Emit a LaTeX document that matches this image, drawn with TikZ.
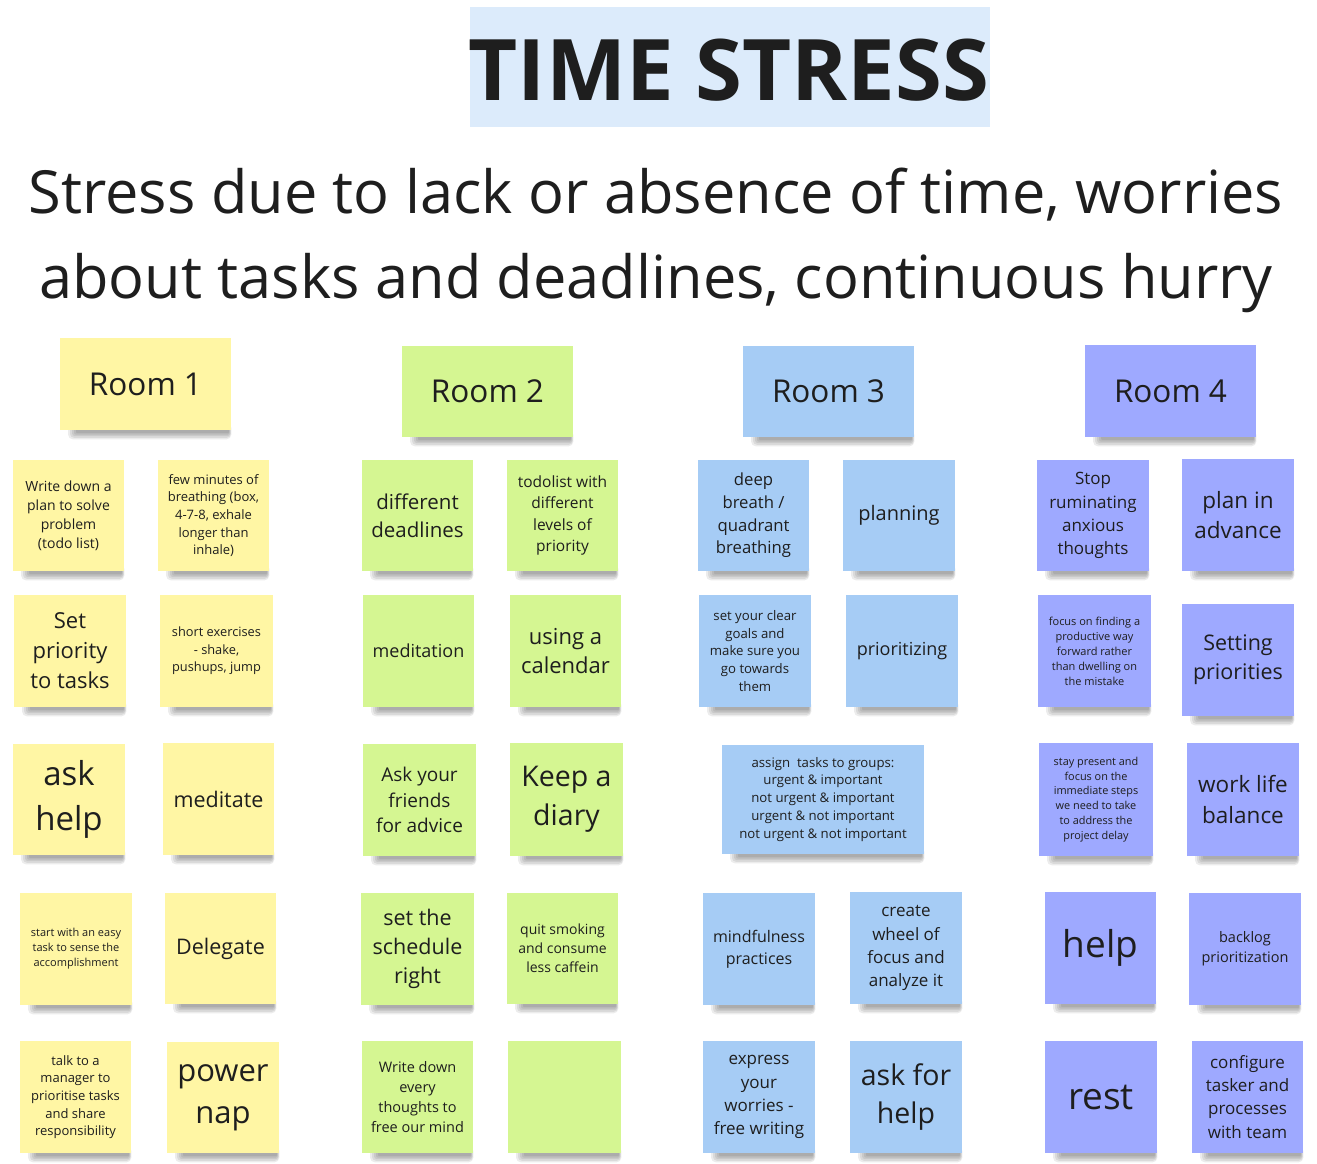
\documentclass[tikz,border=0pt]{standalone}
\usepackage{fontspec}
\setmainfont{Open Sans}
\definecolor{stY}{HTML}{FFF6A4}
\definecolor{stG}{HTML}{D5F692}
\definecolor{stB}{HTML}{A6CCF5}
\definecolor{stV}{HTML}{9EA9FF}
\definecolor{titlebg}{HTML}{DCEBFB}
\definecolor{ink}{HTML}{1E1E1E}
\newcommand\fsz[1]{\fontsize{#1pt}{\the\dimexpr #1pt*136/100\relax}\selectfont}
\tikzset{
  sticky/.style={draw=none, inner sep=2pt, align=center, text=ink},
  shade layer/.style={fill=black, opacity=0.075},
}
\newcommand\stick[8]{%
  \foreach \k in {0,...,4}{\fill[shade layer, rounded corners={(1+\k)*1pt}] ({#3+16-\k*2},{#6-3-\k}) rectangle ({#5-2+\k*0.6},{#6+3+\k*1.6});}
  \node[sticky, fill=#2, minimum width={(#5-#3)*1pt}, minimum height={(#6-#4)*1pt}, font=\fsz{#7}] (#1) at ({(#3+#5)/2},{(#4+#6)/2}) {#8};}
\begin{document}
\begin{tikzpicture}[x=1pt,y=-1pt]
\useasboundingbox (0,0) rectangle (1317,1163);
\fill[white] (0,0) rectangle (1317,1163);
% title
\node[fill=titlebg, minimum width=520pt, minimum height=120pt, inner sep=0pt] (titlebox) at (730,67) {};
\node[inner sep=0pt, text=ink, font=\fontsize{85pt}{95pt}\selectfont\bfseries] (title) at (729,70) {TIME STRESS};
\node[align=center, text=ink, font=\fontsize{59.5pt}{85pt}\selectfont, inner sep=0pt] (sub) at (656,240) {Stress due to lack or absence of time, worries\\about tasks and deadlines, continuous hurry};
% Room headers
\stick{h1}{stY}{60}{338}{231}{430}{31.5}{Room 1}
\stick{h2}{stG}{402}{346}{573}{437}{31.5}{Room 2}
\stick{h3}{stB}{743}{346}{914}{437}{31.5}{Room 3}
\stick{h4}{stV}{1085}{345}{1256}{437}{31.5}{Room 4}
% Room 1
\stick{a1}{stY}{13}{460}{124}{571}{14}{Write down a\\plan to solve\\problem\\(todo list)}
\stick{a2}{stY}{158}{460}{269}{571}{13}{few minutes of\\breathing (box,\\4-7-8, exhale\\longer than\\inhale)}
\stick{a3}{stY}{14}{595}{126}{707}{22}{Set\\priority\\to tasks}
\stick{a4}{stY}{160}{595}{273}{707}{12.8}{short exercises\\- shake,\\pushups, jump}
\stick{a5}{stY}{13}{744}{125}{855}{33}{ask\\help}
\stick{a6}{stY}{163}{743}{274}{855}{21.5}{meditate}
\stick{a7}{stY}{20}{893}{132}{1005}{11}{start with an easy\\task to sense the\\accomplishment}
\stick{a8}{stY}{165}{893}{276}{1004}{21.5}{Delegate}
\stick{a9}{stY}{20}{1041}{131}{1153}{13}{talk to a\\manager to\\prioritise tasks\\and share\\responsibility}
\stick{a10}{stY}{167}{1042}{279}{1153}{31}{power\\nap}
% Room 2
\stick{b1}{stG}{362}{460}{473}{571}{20.5}{different\\deadlines}
\stick{b2}{stG}{507}{460}{618}{571}{15.5}{todolist with\\different\\levels of\\priority}
\stick{b3}{stG}{363}{595}{474}{707}{18}{meditation}
\stick{b4}{stG}{510}{595}{621}{707}{22}{using a\\calendar}
\stick{b5}{stG}{363}{744}{476}{856}{19}{Ask your\\friends\\for advice}
\stick{b6}{stG}{510}{743}{623}{856}{28.5}{Keep a\\diary}
\stick{b7}{stG}{361}{893}{474}{1005}{21.5}{set the\\schedule\\right}
\stick{b8}{stG}{507}{893}{618}{1004}{14}{quit smoking\\and consume\\less caffein}
\stick{b9}{stG}{362}{1041}{473}{1153}{14.5}{Write down\\every\\thoughts to\\free our mind}
\stick{b10}{stG}{508}{1041}{621}{1153}{14}{}
% Room 3
\stick{c1}{stB}{698}{460}{809}{571}{16.7}{deep\\breath /\\quadrant\\breathing}
\stick{c2}{stB}{843}{460}{955}{571}{20}{planning}
\stick{c3}{stB}{699}{595}{811}{707}{13.2}{set your clear\\goals and\\make sure you\\go towards\\them}
\stick{c4}{stB}{846}{595}{958}{707}{18}{prioritizing}
\stick{c5}{stB}{722}{745}{924}{854}{13.2}{assign\ \ tasks to groups:\\urgent \& important\\not urgent \& important\\urgent \& not important\\not urgent \& not important}
\stick{c6}{stB}{703}{893}{815}{1005}{16}{mindfulness\\practices}
\stick{c7}{stB}{850}{892}{962}{1004}{17}{create\\wheel of\\focus and\\analyze it}
\stick{c8}{stB}{703}{1041}{815}{1153}{17}{express\\your\\worries -\\free writing}
\stick{c9}{stB}{850}{1041}{962}{1153}{28.5}{ask for\\help}
% Room 4
\stick{d1}{stV}{1037}{460}{1149}{571}{17}{Stop\\ruminating\\anxious\\thoughts}
\stick{d2}{stV}{1182}{459}{1294}{571}{22.5}{plan in\\advance}
\stick{d3}{stV}{1038}{595}{1151}{707}{11}{focus on finding a\\productive way\\forward rather\\than dwelling on\\the mistake}
\stick{d4}{stV}{1182}{604}{1294}{716}{21.5}{Setting\\priorities}
\stick{d5}{stV}{1039}{743}{1153}{856}{10.9}{stay present and\\focus on the\\immediate steps\\we need to take\\to address the\\project delay}
\stick{d6}{stV}{1187}{743}{1299}{856}{22.5}{work life\\balance}
\stick{d7}{stV}{1045}{892}{1156}{1004}{37}{help}
\stick{d8}{stV}{1189}{893}{1301}{1005}{14.5}{backlog\\prioritization}
\stick{d9}{stV}{1045}{1041}{1157}{1153}{37}{rest}
\stick{d10}{stV}{1192}{1041}{1303}{1153}{17}{configure\\tasker and\\processes\\with team}
\end{tikzpicture}
\end{document}
